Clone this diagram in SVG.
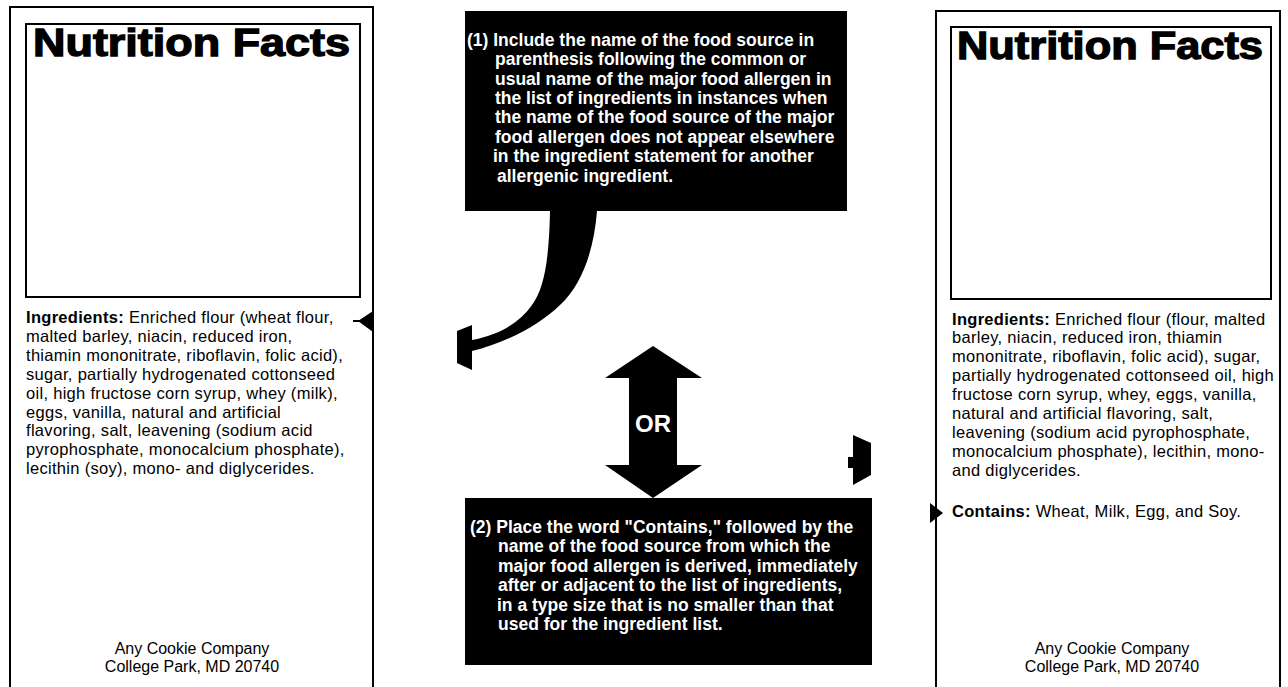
<svg xmlns="http://www.w3.org/2000/svg" width="1288" height="687" viewBox="0 0 1288 687">
<style>
.panel{fill:#fff;stroke:#000;stroke-width:2}
.inner{fill:none;stroke:#000;stroke-width:2}
.nf{font-family:"Liberation Sans",Arial,sans-serif;font-weight:bold;font-size:38px;fill:#000;stroke:#000;stroke-width:1.3px}
.ing{font-family:"Liberation Sans",Arial,sans-serif;font-size:16.5px;letter-spacing:0.3px;fill:#000}
.b{font-weight:bold}
.foot{font-family:"Liberation Sans",Arial,sans-serif;font-size:16px;fill:#000;text-anchor:middle}
.box{fill:#000}
.bt{font-family:"Liberation Sans",Arial,sans-serif;font-weight:bold;font-size:17.5px;fill:#fff}
.or{font-family:"Liberation Sans",Arial,sans-serif;font-weight:bold;font-size:24px;fill:#fff;text-anchor:middle}
.arr{fill:#000}
</style>
<rect width="1288" height="687" fill="#fff"/>

<g id="label-left">
<rect class="panel" x="10" y="7" width="363" height="700"/>
<rect class="inner" x="26" y="24" width="334" height="273"/>
<text class="nf" x="33" y="56" textLength="317" lengthAdjust="spacingAndGlyphs">Nutrition Facts</text>
<text class="ing" x="26" y="323"><tspan class="b">Ingredients:</tspan>  Enriched flour (wheat flour,</text>
<text class="ing" x="26" y="341.9">malted barley, niacin, reduced iron,</text>
<text class="ing" x="26" y="360.8">thiamin mononitrate, riboflavin, folic acid),</text>
<text class="ing" x="26" y="379.7">sugar, partially hydrogenated cottonseed</text>
<text class="ing" x="26" y="398.6">oil, high fructose corn syrup, whey (milk),</text>
<text class="ing" x="26" y="417.5">eggs, vanilla, natural and artificial</text>
<text class="ing" x="26" y="436.4">flavoring, salt, leavening (sodium acid</text>
<text class="ing" x="26" y="455.3">pyrophosphate, monocalcium phosphate),</text>
<text class="ing" x="26" y="474.2">lecithin (soy), mono- and diglycerides.</text>
<text class="foot" x="192" y="654">Any Cookie Company</text>
<text class="foot" x="192" y="672">College Park, MD 20740</text>
</g>

<g id="label-right">
<rect class="panel" x="936" y="11" width="344" height="700"/>
<rect class="inner" x="951" y="27" width="320" height="272"/>
<text class="nf" x="957" y="59" textLength="306" lengthAdjust="spacingAndGlyphs">Nutrition Facts</text>
<text class="ing" x="952" y="324.5"><tspan class="b">Ingredients:</tspan>  Enriched flour (flour, malted</text>
<text class="ing" x="952" y="343.4">barley, niacin, reduced iron, thiamin</text>
<text class="ing" x="952" y="362.3">mononitrate, riboflavin, folic acid), sugar,</text>
<text class="ing" x="952" y="381.2">partially hydrogenated cottonseed oil, high</text>
<text class="ing" x="952" y="400.1">fructose corn syrup, whey, eggs, vanilla,</text>
<text class="ing" x="952" y="419">natural and artificial flavoring, salt,</text>
<text class="ing" x="952" y="437.9">leavening (sodium acid pyrophosphate,</text>
<text class="ing" x="952" y="456.8">monocalcium phosphate), lecithin, mono-</text>
<text class="ing" x="952" y="475.7">and diglycerides.</text>
<text class="ing" x="952" y="517"><tspan class="b">Contains:</tspan>  Wheat, Milk, Egg, and Soy.</text>
<text class="foot" x="1112" y="654">Any Cookie Company</text>
<text class="foot" x="1112" y="672">College Park, MD 20740</text>
</g>

<g id="note-1">
<rect class="box" x="465" y="11" width="382" height="200"/>
<text class="bt" x="467" y="45.7">(1) Include the name of the food source in</text>
<text class="bt" x="495" y="65.1">parenthesis following the common or</text>
<text class="bt" x="495" y="84.5">usual name of the major food allergen in</text>
<text class="bt" x="495" y="103.9">the list of ingredients in instances when</text>
<text class="bt" x="495" y="123.3">the name of the food source of the major</text>
<text class="bt" x="495" y="142.7">food allergen does not appear elsewhere</text>
<text class="bt" x="493" y="162.1">in the ingredient statement for another</text>
<text class="bt" x="497" y="181.5">allergenic ingredient.</text>
</g>

<g id="note-2">
<rect class="box" x="465" y="498" width="407" height="167"/>
<text class="bt" x="470" y="533">(2) Place the word "Contains," followed by the</text>
<text class="bt" x="498" y="552.4">name of the food source from which the</text>
<text class="bt" x="498" y="571.8">major food allergen is derived, immediately</text>
<text class="bt" x="498" y="591.2">after or adjacent to the list of ingredients,</text>
<text class="bt" x="497" y="610.6">in a type size that is no smaller than that</text>
<text class="bt" x="498" y="630">used for the ingredient list.</text>
</g>

<g id="connectors">
<path class="arr" d="M550 211 L597 211 C594 250 582 285 560 305 C540 325 505 343 472 351 L472 370 L457 363 L457 331 L472 325 L472 340 C500 335 520 322 532 305 C543 290 549 265 550 211 Z"/>
<path class="arr" d="M358 321 L373 311 L373 332 Z"/>
<line x1="353" y1="321" x2="360" y2="321" stroke="#000" stroke-width="2"/>
<path class="arr" d="M653 346 L702 378 L677 378 L677 465 L702 465 L653 498 L605 465 L629 465 L629 378 L605 378 Z"/>
<text class="or" x="653" y="432">OR</text>
<path class="arr" d="M853 435 L871 443 L871 475 L853 485 L853 468 L848 468 L848 457 L853 457 Z"/>
<path class="arr" d="M943 513 L930 503 L930 523 Z"/>
</g>
</svg>
